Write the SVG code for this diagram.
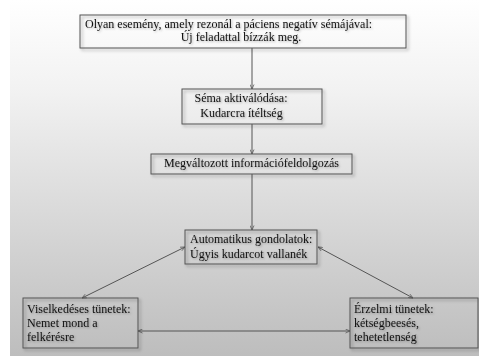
<svg xmlns="http://www.w3.org/2000/svg" width="479" height="358" viewBox="0 0 479 358">
<defs>
<linearGradient id="bg" x1="0" y1="0" x2="0" y2="1">
<stop offset="0" stop-color="#ffffff"/>
<stop offset="0.25" stop-color="#f2f2f2"/>
<stop offset="1" stop-color="#bdbdbd"/>
</linearGradient>
<filter id="bsh" x="-10%" y="-20%" width="130%" height="160%">
<feDropShadow dx="2" dy="2" stdDeviation="1.5" flood-color="#000" flood-opacity="0.35"/>
</filter>
<filter id="tsh" x="-5%" y="-20%" width="110%" height="150%">
<feDropShadow dx="1" dy="1" stdDeviation="0.8" flood-color="#000" flood-opacity="0.3"/>
</filter>
<marker id="ah" viewBox="0 0 10 10" refX="10" refY="5" markerWidth="5" markerHeight="5" orient="auto-start-reverse" markerUnits="userSpaceOnUse">
<path d="M1,1 L10,5 L1,9" fill="none" stroke="#555" stroke-width="1.5"/>
</marker>
</defs>
<style>
.box{fill:none;stroke:#555;stroke-width:1;filter:url(#bsh)}
.t{font-family:"Liberation Serif","Times New Roman",serif;font-size:12px;fill:#111;filter:url(#tsh)}
.c{stroke:#555;stroke-width:1;fill:none}
</style>
<rect x="10" y="0" width="469" height="356" fill="url(#bg)"/>
<g id="connectors">
<line class="c" x1="252" y1="48" x2="252" y2="89" marker-end="url(#ah)"/>
<line class="c" x1="252" y1="124" x2="252" y2="154" marker-end="url(#ah)"/>
<line class="c" x1="252" y1="174" x2="252" y2="230" marker-end="url(#ah)"/>
<line class="c" x1="185" y1="247" x2="82" y2="298" marker-start="url(#ah)" marker-end="url(#ah)"/>
<line class="c" x1="318" y1="247" x2="413" y2="298" marker-start="url(#ah)" marker-end="url(#ah)"/>
<line class="c" x1="138" y1="331" x2="350" y2="331" marker-start="url(#ah)" marker-end="url(#ah)"/>
</g>
<g id="n1">
<rect class="box" x="80" y="15" width="326" height="33"/>
<text class="t" x="85" y="28">Olyan esemény, amely rezonál a páciens negatív sémájával:</text>
<text class="t" x="241" y="41" text-anchor="middle">Új feladattal bízzák meg.</text>
</g>
<g id="n2">
<rect class="box" x="182" y="89" width="140" height="35"/>
<text class="t" x="241" y="102" text-anchor="middle">Séma aktiválódása:</text>
<text class="t" x="241.5" y="117" text-anchor="middle">Kudarcra ítéltség</text>
</g>
<g id="n3">
<rect class="box" x="151" y="154" width="201" height="20"/>
<text class="t" x="251.5" y="167" text-anchor="middle">Megváltozott információfeldolgozás</text>
</g>
<g id="n4">
<rect class="box" x="185" y="230" width="132" height="34"/>
<text class="t" x="190" y="243">Automatikus gondolatok:</text>
<text class="t" x="190" y="258">Úgyis kudarcot vallanék</text>
</g>
<g id="n5">
<rect class="box" x="23" y="298" width="115" height="50"/>
<text class="t" x="27" y="313">Viselkedéses tünetek:</text>
<text class="t" x="27" y="327">Nemet mond a</text>
<text class="t" x="27" y="341">felkérésre</text>
</g>
<g id="n6">
<rect class="box" x="350" y="298" width="128" height="50"/>
<text class="t" x="354" y="313">Érzelmi tünetek:</text>
<text class="t" x="354" y="327">kétségbeesés,</text>
<text class="t" x="354" y="341">tehetetlenség</text>
</g>
</svg>
